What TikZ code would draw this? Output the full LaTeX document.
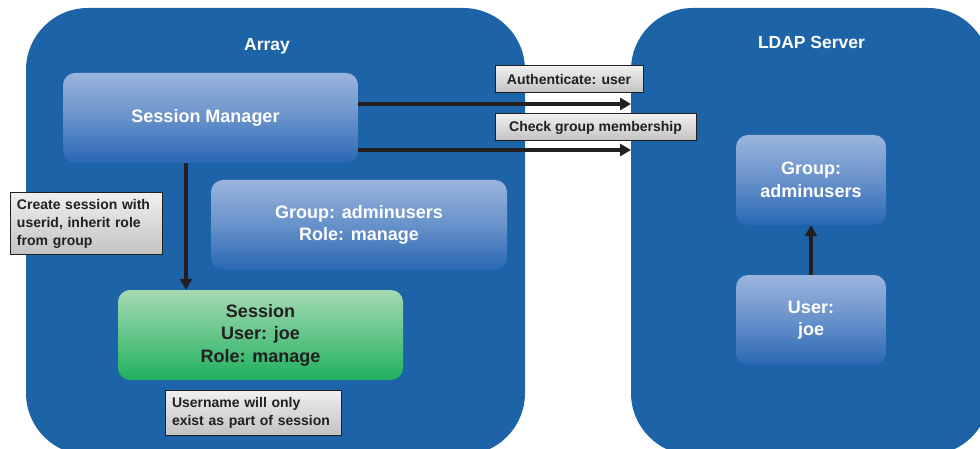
\documentclass[tikz,border=0pt]{standalone}
\usepackage{fontspec}
\setmainfont{Liberation Sans}
\usetikzlibrary{arrows.meta}
\definecolor{contblue}{HTML}{1C63A8}
\definecolor{boxtop}{HTML}{9BB4DD}
\definecolor{boxbot}{HTML}{2867B3}
\definecolor{greentop}{HTML}{A6DAB4}
\definecolor{greenbot}{HTML}{20B05E}
\definecolor{txtdark}{HTML}{231F20}
\newcommand{\ind}{\hspace*{5pt}}
\tikzset{
  container/.style={fill=contblue, rounded corners=62pt},
  bluebox/.style={rounded corners=12pt, top color=boxtop, bottom color=boxbot, middle color=boxtop!55!boxbot, align=center, text=white, font=\bfseries\fontsize{18}{22.5}\selectfont, inner sep=0pt},
  greenbox/.style={rounded corners=12pt, top color=greentop, bottom color=greenbot, align=center, text=txtdark, font=\bfseries\fontsize{18}{22.5}\selectfont, inner sep=0pt},
  labelbox/.style={draw=txtdark, line width=1pt, top color=white!94!black, bottom color=white!76!black, align=left, text=txtdark, font=\bfseries\fontsize{14}{18}\selectfont, inner sep=0pt},
  title/.style={text=white, font=\bfseries\fontsize{17.5}{21}\selectfont},
  conn/.style={draw=txtdark, line width=4pt, -{Triangle[length=11pt,width=12pt]}},
}
\begin{document}
\begin{tikzpicture}[x=1pt,y=-1pt]
\useasboundingbox (0,0) rectangle (980,449);
\clip (0,0) rectangle (980,449);
% containers
\fill[container] (26,8) rectangle (525,455);
\fill[container] (631,8) rectangle (990,455);
\node[title] (arraytitle) at (267,46) {Array};
\node[title] (ldaptitle) at (811.5,42) {LDAP Server};
% array boxes
\node[bluebox, minimum width=295pt, minimum height=90pt] (sm) at (210.5,118) {Session Manager\hspace*{10pt}};
\node[bluebox, minimum width=296pt, minimum height=90pt] (grp) at (359,225) {Group: adminusers\\Role: manage};
\node[greenbox, minimum width=285pt, minimum height=90pt] (sess) at (260.5,335) {Session\\User: joe\\Role: manage};
% ldap boxes
\node[bluebox, minimum width=150pt, minimum height=90pt] (lgrp) at (811,180) {Group:\\adminusers};
\node[bluebox, minimum width=150pt, minimum height=90pt] (luser) at (811,320) {User:\\joe};
% labels
\node[labelbox, minimum width=148pt, minimum height=27pt, align=center] (auth) at (569,79.5) {Authenticate: user};
\node[labelbox, minimum width=201pt, minimum height=27pt, align=center] (check) at (595.5,127.5) {Check group membership};
\node[labelbox, minimum width=152pt, minimum height=62pt, text width=148pt] (create) at (86,224) {\ind Create session with\\\ind userid, inherit role\\\ind from group};
\node[labelbox, minimum width=176pt, minimum height=45pt, text width=172pt] (uname) at (253,412.5) {\ind Username will only\\\ind exist as part of session};
% connectors
\coordinate (ldapin1) at (631,104);
\coordinate (ldapin2) at (631,150);
\draw[conn] (sm.east |- ldapin1) -- (ldapin1);
\draw[conn] (sm.east |- ldapin2) -- (ldapin2);
\draw[conn] (186,163) -- (sess.north -| 186,0);
\draw[conn] (luser.north) -- (lgrp.south);
\end{tikzpicture}
\end{document}
